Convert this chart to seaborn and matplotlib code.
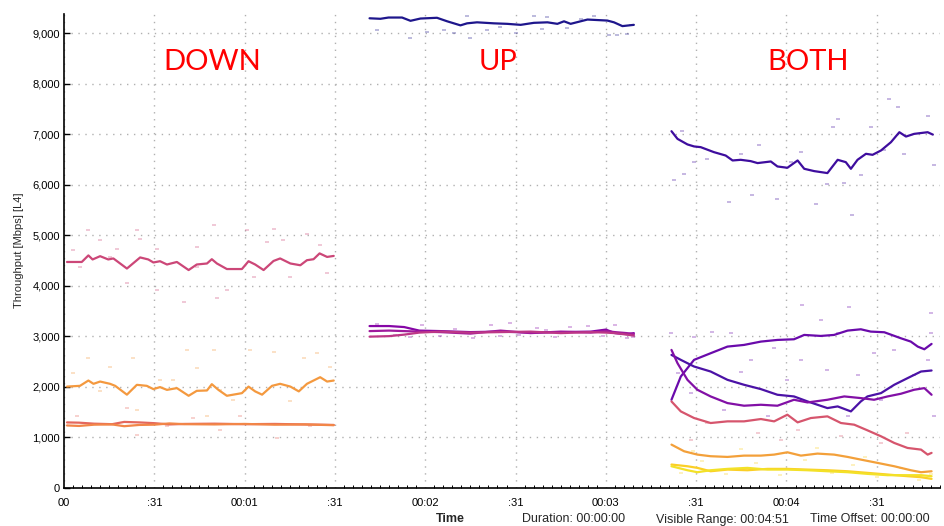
import numpy as np
import pandas as pd
import matplotlib
matplotlib.use("Agg")
import matplotlib.pyplot as plt
from matplotlib.ticker import FixedLocator, MultipleLocator, FuncFormatter
import seaborn as sns

# ---- throughput traces (time in seconds, throughput in Mbps) ----
# DOWN phase
down_a_t = [1.0, 5.9, 8.1, 9.5, 12.0, 14.7, 16.4, 20.9, 25.3, 28.0, 29.7, 31.9, 34.2, 37.5, 41.4, 44.1, 47.5,
            49.1, 50.8, 54.1, 59.1, 61.3, 63.5, 66.3, 69.6, 71.8, 75.2, 78.5, 80.7, 82.9, 84.9, 87.4, 89.6]
down_a_v = [4470, 4470, 4600, 4520, 4585, 4520, 4540, 4340, 4560, 4520, 4460, 4485, 4420, 4470, 4310, 4420, 4440,
            4525, 4440, 4330, 4330, 4485, 4420, 4310, 4490, 4540, 4440, 4405, 4505, 4525, 4640, 4570, 4590]

down_b_t = [1.0, 5.3, 8.1, 9.8, 12.0, 15.3, 17.0, 20.9, 24.2, 27.5, 29.7, 31.9, 34.2, 37.5, 41.4, 44.1, 47.5,
            49.1, 51.3, 54.1, 59.1, 61.3, 63.5, 65.8, 69.1, 71.8, 75.2, 78.0, 80.7, 85.1, 87.4, 89.6]
down_b_v = [2000, 2015, 2120, 2055, 2100, 2055, 2015, 1840, 2035, 2015, 1950, 1990, 1935, 1970, 1818, 1916, 1923,
            2048, 1935, 1818, 1870, 2000, 1905, 1840, 2015, 2055, 2000, 1905, 2055, 2186, 2100, 2120]

down_c_t = [1.0, 5.0, 10.0, 16.0, 20.0, 25.0, 30.0, 35.0, 40.0, 50.0, 60.0, 70.0, 80.0, 89.6]
down_c_v = [1290, 1285, 1265, 1255, 1300, 1290, 1275, 1250, 1260, 1265, 1255, 1260, 1250, 1240]
down_d_v = [1230, 1220, 1245, 1250, 1215, 1240, 1245, 1270, 1255, 1250, 1260, 1245, 1250, 1235]

# UP phase
up_a_t = [101.5, 105.1, 107.8, 112.3, 115.1, 118.4, 123.9, 127.3, 131.7, 133.9, 137.2, 142.8, 147.2, 151.7,
          156.1, 160.6, 163.9, 166.1, 168.3, 173.9, 180.5, 182.7, 185.5, 189.3]
up_a_v = [9300, 9290, 9315, 9315, 9250, 9295, 9310, 9240, 9160, 9200, 9220, 9200, 9190, 9170,
          9210, 9220, 9190, 9240, 9190, 9275, 9255, 9220, 9145, 9170]

up_t = [101.5, 108.0, 113.0, 118.0, 125.0, 135.0, 145.0, 155.0, 165.0, 175.0, 180.0, 183.0, 187.0, 189.3]
up_b_v = [3200, 3200, 3180, 3110, 3100, 3080, 3090, 3070, 3080, 3090, 3130, 3060, 3040, 3060]
up_c_v = [3100, 3110, 3100, 3090, 3080, 3050, 3110, 3060, 3090, 3070, 3100, 3080, 3060, 3040]
up_d_v = [2990, 3000, 3030, 3070, 3090, 3070, 3080, 3090, 3060, 3080, 3070, 3060, 3030, 3010]

# BOTH phase
both_a_t = [201.8, 203.8, 207.1, 209.3, 211.5, 215.9, 219.8, 222.1, 224.8, 228.1, 230.4, 234.8, 237.0, 240.3,
            243.7, 245.9, 249.2, 253.6, 257.0, 259.7, 261.4, 263.6, 266.4, 268.6, 271.4, 274.7, 277.5, 279.7,
            282.4, 286.9, 288.6]
both_a_v = [7062, 6910, 6800, 6760, 6746, 6647, 6580, 6482, 6495, 6469, 6430, 6462, 6363, 6337,
            6482, 6317, 6271, 6232, 6495, 6449, 6317, 6495, 6614, 6594, 6680, 6844, 7042, 6956,
            7009, 7042, 6995]

both_b_t = [201.8, 204.9, 209.3, 214.8, 220.4, 225.9, 231.5, 237.0, 242.5, 245.9, 251.4, 255.8, 260.3,
            264.7, 268.0, 272.5, 278.0, 281.3, 283.6, 285.8, 288.2]
both_b_v = [1739, 2200, 2530, 2661, 2793, 2826, 2892, 2925, 2938, 3024, 3004, 3024, 3110,
            3136, 3090, 3077, 2958, 2892, 2793, 2740, 2846]

both_c_t = [201.8, 204.9, 209.3, 214.8, 220.4, 225.9, 231.5, 237.0, 242.5, 247.0, 253.6, 257.0, 261.4,
            264.7, 266.9, 271.4, 275.8, 280.2, 284.7, 288.2]
both_c_v = [2628, 2530, 2398, 2299, 2134, 2036, 1950, 1838, 1805, 1706, 1574, 1607, 1508,
            1706, 1805, 1871, 2036, 2167, 2299, 2319]

both_d_t = [201.8, 203.8, 207.1, 210.4, 214.8, 220.4, 225.9, 231.5, 237.0, 242.5, 247.0, 253.6, 259.2,
            264.7, 269.1, 273.6, 278.0, 282.4, 285.8, 288.2]
both_d_v = [2727, 2464, 2134, 1937, 1805, 1673, 1621, 1640, 1621, 1739, 1686, 1739, 1805,
            1772, 1739, 1805, 1858, 1937, 1970, 1838]

both_e_t = [201.8, 204.9, 209.3, 214.8, 220.4, 225.9, 231.5, 235.9, 240.3, 243.7, 248.1, 253.6, 258.1,
            262.5, 266.9, 271.4, 275.8, 280.2, 284.7, 286.9, 288.2]
both_e_v = [1706, 1508, 1377, 1278, 1311, 1311, 1357, 1311, 1443, 1291, 1377, 1410, 1278,
            1245, 1133, 1015, 883, 784, 751, 652, 686]

both_f_t = [201.8, 206.0, 210.4, 214.8, 220.4, 225.9, 231.5, 235.9, 240.3, 244.8, 250.3, 255.8, 260.3,
            264.7, 270.3, 275.8, 281.3, 284.7, 288.2]
both_f_v = [850, 718, 652, 620, 606, 632, 632, 652, 698, 632, 672, 652, 606,
            553, 487, 421, 342, 303, 322]

both_y_t = [201.8, 207.1, 210.4, 214.8, 220.4, 227.0, 233.7, 240.3, 247.0, 253.6, 260.3, 266.9, 273.6,
            280.2, 284.7, 288.2]
both_g_v = [455, 421, 389, 322, 355, 342, 369, 369, 355, 342, 322, 290, 257, 224, 204, 171]
both_h_v = [421, 342, 303, 342, 369, 389, 355, 355, 342, 322, 303, 270, 244, 244, 244, 224]

# ---- individual samples drawn as faint dashes ----
down_a_st = [8.1, 2.9, 12.0, 17.5, 20.8, 24.2, 25.3, 30.8, 30.8, 39.7, 44.1, 49.7, 50.8, 54.1, 60.8, 67.4,
             69.6, 72.9, 75.2, 80.7, 85.1, 87.4, 5.3, 15.3, 44.1, 63.0]
down_a_sv = [5112, 4704, 4901, 4737, 4045, 5099, 4934, 4737, 3913, 3682, 4769, 5198, 3749, 3913, 5099, 4868,
             5132, 4901, 4176, 5033, 4802, 4243, 4373, 4571, 4373, 4176]

down_b_st = [8.1, 15.3, 23.0, 24.2, 31.9, 36.3, 44.1, 49.7, 51.9, 56.3, 61.9, 69.6, 75.2, 79.6, 84.0, 88.5,
             3.1, 12.0, 40.8, 47.5]
down_b_sv = [2563, 2398, 2563, 1541, 2134, 2134, 2365, 2727, 1937, 1739, 2727, 2694, 1706, 2563, 2662, 2398,
             2267, 1903, 2727, 1409]

down_c_st = [24.2, 4.2, 20.8, 43.0, 51.9, 70.7, 34.2, 58.5, 81.8]
down_c_sv = [1047, 1409, 1575, 1377, 1146, 982, 1212, 1409, 1212]

up_a_st = [104.0, 115.1, 120.6, 126.1, 129.5, 133.9, 134.8, 140.6, 145.0, 150.0, 156.1, 158.9, 160.6, 167.2,
           171.6, 176.0, 181.0, 183.8, 187.1, 188.2]
up_a_sv = [9077, 8907, 9038, 9058, 9012, 9342, 8907, 9058, 9124, 9012, 9342, 9091, 9322, 9104,
           9289, 9355, 8959, 8972, 8992, 9170]

up_b_st = [104, 110, 115, 119, 125, 130, 136, 142, 145, 148, 151, 157, 160, 163, 168, 174, 179, 183, 187, 189]
up_b_sv = [3240, 3020, 2980, 3230, 3000, 3150, 2960, 3230, 3010, 3260, 3020, 3160, 3120, 2990, 3180, 3210,
           3000, 3230, 2960, 2990]

both_a_st = [274.1, 276.9, 268.0, 257.0, 255.3, 244.8, 237.0, 220.9, 261.9, 249.7, 228.7, 205.9, 202.6, 209.3,
             286.9, 289.1, 259.2, 264.7, 213.7, 224.8, 230.9, 241.4, 253.6, 272.5, 279.1, 205.4]
both_a_sv = [7701, 7536, 7141, 7306, 7141, 6646, 5725, 5658, 5395, 5626, 5791, 6219, 6087, 6449,
             7372, 6383, 6034, 6186, 6515, 6614, 6779, 6449, 6022, 6680, 6614, 7075]

both_p_st = [245.3, 260.8, 251.4, 288.0, 215.4, 209.3, 235.9, 269.1, 275.8, 286.9, 224.8, 240.3, 253.6, 263.6,
             208.2, 219.3, 233.7, 260.3, 271.4, 289.1, 203.8, 201.5, 228.1, 244.8, 282.4, 288.0, 221.5, 257.0]
both_p_sv = [3617, 3583, 3320, 3452, 3089, 2990, 2760, 2662, 2727, 2530, 2299, 2134, 2332, 2233,
             1871, 1541, 1409, 1409, 1739, 1409, 2267, 3057, 2530, 2530, 2233, 3057, 3057, 3057]

both_e_st = [213.7, 230.4, 243.7, 258.1, 271.4, 208.2, 238.1, 280.2]
both_e_sv = [1278, 1081, 1146, 1014, 883, 949, 949, 1081]

both_y_st = [205, 212, 220, 230, 238, 246, 255, 262, 270, 278, 284, 288, 209, 225, 250, 266]
both_y_sv = [280, 520, 260, 480, 250, 550, 280, 450, 200, 380, 140, 260, 720, 760, 780, 600]

# ---- axis text ----
x_tick_pos = [0, 30, 60, 90, 120, 150, 180, 210, 240, 270]
x_tick_labels = ["00", ":31", "00:01", ":31", "00:02", ":31", "00:03", ":31", "00:04", ":31"]
y_tick_pos = [0, 1000, 2000, 3000, 4000, 5000, 6000, 7000, 8000, 9000]
phase_labels = ["DOWN", "UP", "BOTH"]
phase_centers = [49.2, 144.3, 247.1]

flows = {
    "down_a": (down_a_t, down_a_v, "#cc4778"),
    "down_b": (down_b_t, down_b_v, "#f4993f"),
    "down_c": (down_c_t, down_c_v, "#e4675c"),
    "down_d": (down_c_t, down_d_v, "#f28648"),
    "up_a": (up_a_t, up_a_v, "#1e168c"),
    "up_b": (up_t, up_b_v, "#8606a6"),
    "up_c": (up_t, up_c_v, "#a01a9c"),
    "up_d": (up_t, up_d_v, "#bd3786"),
    "both_a": (both_a_t, both_a_v, "#3e0d9e"),
    "both_b": (both_b_t, both_b_v, "#6a0aab"),
    "both_c": (both_c_t, both_c_v, "#4b12a6"),
    "both_d": (both_d_t, both_d_v, "#8210a6"),
    "both_e": (both_e_t, both_e_v, "#d6556d"),
    "both_f": (both_f_t, both_f_v, "#f3a03a"),
    "both_g": (both_y_t, both_g_v, "#fbcf26"),
    "both_h": (both_y_t, both_h_v, "#f3e128"),
}

samples = {
    "down_a": (down_a_st, down_a_sv),
    "down_b": (down_b_st, down_b_sv),
    "down_c": (down_c_st, down_c_sv),
    "up_a": (up_a_st, up_a_sv),
    "up_b": (up_b_st, up_b_sv),
    "both_a": (both_a_st, both_a_sv),
    "both_b": (both_p_st, both_p_sv),
    "both_e": (both_e_st, both_e_sv),
    "both_g": (both_y_st, both_y_sv),
}

lines_df = pd.concat(
    [pd.DataFrame({"t": t, "mbps": v, "flow": name}) for name, (t, v, _) in flows.items()],
    ignore_index=True,
)
samples_df = pd.concat(
    [pd.DataFrame({"t": t, "mbps": v, "flow": name}) for name, (t, v) in samples.items()],
    ignore_index=True,
)
palette = {name: c for name, (_, _, c) in flows.items()}

sns.set_theme(style="white")
plt.rcParams["font.family"] = ["Liberation Sans", "DejaVu Sans"]

fig = plt.figure(figsize=(9.44, 5.26), dpi=100)
ax = fig.add_axes([64 / 944, 38.5 / 526, 876 / 944, 473.5 / 526])

# faint per-sample dashes
for name, grp in samples_df.groupby("flow"):
    ax.plot(grp["t"], grp["mbps"], linestyle="none", marker="_", markersize=3.5,
            markeredgewidth=1.2, color=palette[name], alpha=0.35, zorder=2)

sns.lineplot(data=lines_df, x="t", y="mbps", hue="flow", palette=palette,
             units="flow", estimator=None, sort=False, legend=False,
             linewidth=1.6, ax=ax, zorder=3)

ax.set_xlim(0, 291)
ax.set_ylim(0, 9385)
ax.xaxis.set_major_locator(FixedLocator(x_tick_pos))
ax.set_xticklabels(x_tick_labels)
ax.xaxis.set_minor_locator(MultipleLocator(3))
ax.yaxis.set_major_locator(FixedLocator(y_tick_pos))
ax.yaxis.set_major_formatter(FuncFormatter(lambda v, _: f"{int(v):,}"))

ax.grid(True, which="major", color="#b0b0b0", linestyle=(0, (1, 4)), linewidth=1.0)
for side in ["top", "right"]:
    ax.spines[side].set_visible(False)
for side in ["left", "bottom"]:
    ax.spines[side].set_color("black")
    ax.spines[side].set_linewidth(1.2)

ax.tick_params(axis="x", which="major", direction="inout", length=7, width=1, colors="black",
               labelsize=8, pad=4)
ax.tick_params(axis="x", which="minor", direction="in", length=2, width=0.7, colors="black", bottom=True)
ax.tick_params(axis="y", which="major", direction="in", length=4, width=1, colors="black",
               labelsize=8, pad=3, left=True)

ax.set_xlabel("")
ax.set_ylabel("Throughput [Mbps] [L4]", fontsize=8, labelpad=6)

for label, cx in zip(phase_labels, phase_centers):
    ax.text(cx, 8430, label, color="#ff0000", fontsize=21, ha="center", va="center",
            family=["Lato", "DejaVu Sans"])

footer_y = 3.5 / 526
fig.text(436 / 944, footer_y, "Time", fontsize=9, fontweight="bold", va="baseline", ha="left")
fig.text(522 / 944, footer_y, "Duration: 00:00:00", fontsize=9, va="baseline", ha="left")
fig.text(656 / 944, footer_y, "Visible Range: 00:04:51", fontsize=9, va="baseline", ha="left")
fig.text(810 / 944, footer_y, "Time Offset: 00:00:00", fontsize=9, va="baseline", ha="left")

fig.savefig("out.png", dpi=100)
